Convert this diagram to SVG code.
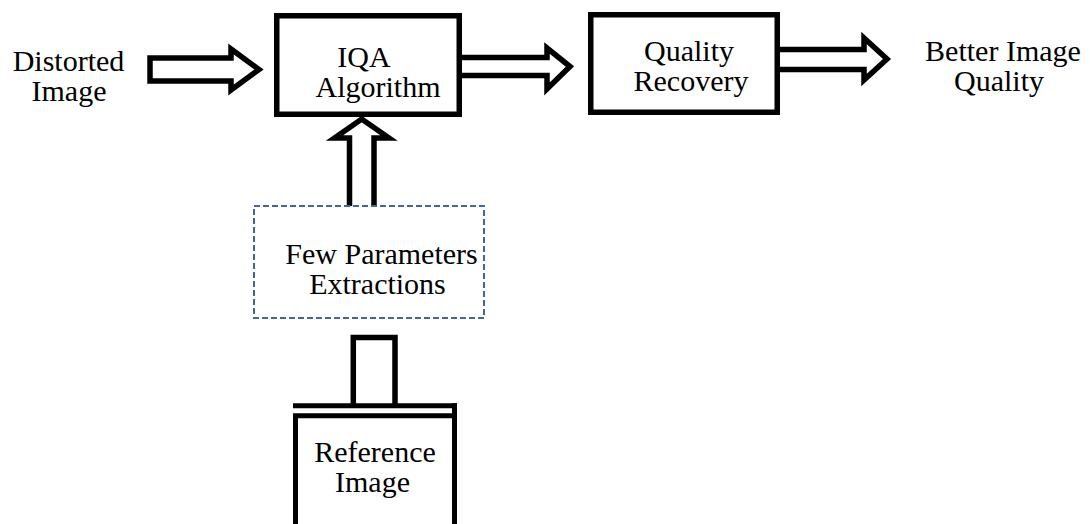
<svg xmlns="http://www.w3.org/2000/svg" width="1090" height="524" viewBox="0 0 1090 524">
  <style>
    .lbl { font-family: "Liberation Serif", "Times New Roman", serif; font-size: 30px; fill: #000; text-anchor: middle; }
    .box { fill: #fff; stroke: #000; stroke-width: 5.5; }
    .blk { fill: #fff; stroke: #000; stroke-width: 5.5; stroke-linejoin: miter; stroke-miterlimit: 10; }
    .dash { fill: none; stroke: #41679a; stroke-width: 2; stroke-dasharray: 6 3; }
  </style>
  <rect width="1090" height="524" fill="#fff"/>

  <!-- block arrows -->
  <g id="connectors">
    <path class="blk" d="M150,58 H231 V49 L259,69.5 L231,90 V81 H150 Z"/>
    <path class="blk" d="M459,57.5 H547 V48 L570,66.5 L547,89 V75.5 H459 Z"/>
    <path class="blk" d="M777,49.5 H864 V38 L887,59 L864,80 V69.5 H777 Z"/>
    <path class="blk" d="M349.5,206 V138 H334.5 L361.7,119 L389,138 H374 V206"/>
    <path class="blk" d="M353.3,404 V337.5 H395 V404"/>
  </g>

  <g id="distorted-image">
    <text class="lbl" x="68.5" y="71">Distorted</text>
    <text class="lbl" x="69" y="101">Image</text>
  </g>

  <g id="iqa-algorithm">
    <rect class="box" x="276.75" y="15.75" width="182.5" height="98.5"/>
    <text class="lbl" x="364" y="67">IQA</text>
    <text class="lbl" x="378" y="97">Algorithm</text>
  </g>

  <g id="quality-recovery">
    <rect class="box" x="590.75" y="14.75" width="186.5" height="97.5"/>
    <text class="lbl" x="689" y="60.5">Quality</text>
    <text class="lbl" x="691" y="90.5">Recovery</text>
  </g>

  <g id="better-image-quality">
    <text class="lbl" x="1003" y="60.5">Better Image</text>
    <text class="lbl" x="999" y="90.5">Quality</text>
  </g>

  <g id="few-parameters">
    <rect class="dash" x="254" y="206" width="230" height="112"/>
    <text class="lbl" x="381.5" y="263.5">Few Parameters</text>
    <text class="lbl" x="377.5" y="293.5">Extractions</text>
  </g>

  <g id="reference-image">
    <path fill="none" stroke="#000" stroke-width="5" d="M293,405.8 H457"/>
    <path fill="none" stroke="#000" stroke-width="5" d="M454.5,403.3 V530"/>
    <path fill="none" stroke="#000" stroke-width="5" d="M295.5,530 V415.8 H454.5"/>
    <text class="lbl" x="375" y="461.5">Reference</text>
    <text class="lbl" x="372.5" y="491.5">Image</text>
  </g>
</svg>
